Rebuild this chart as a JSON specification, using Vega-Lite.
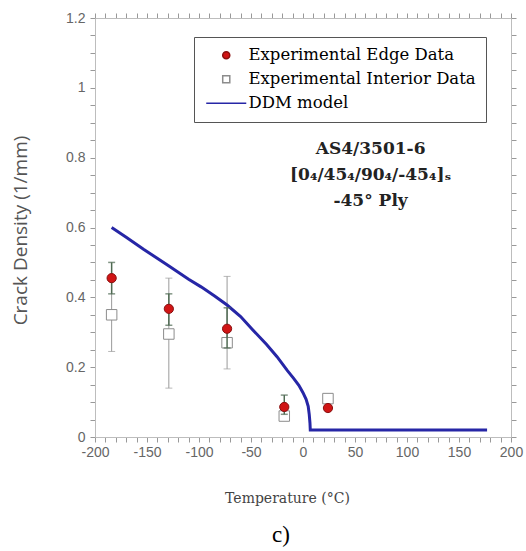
{
  "$schema": "https://vega.github.io/schema/vega-lite/v6.json",
  "width": 416,
  "height": 419,
  "autosize": {"type": "none"},
  "padding": {"left": 95, "top": 18, "right": 15, "bottom": 114},
  "background": "white",
  "config": {
    "view": {"stroke": "#c4c4c4", "strokeWidth": 1},
    "axis": {"domainColor": "#bdbdbd", "tickColor": "#999999", "labelColor": "#666666", "labelFont": "Liberation Sans", "labelFontSize": 14, "grid": false, "labelOverlap": false, "labelFlush": false}
  },
  "title": {"text": "c)", "orient": "bottom", "font": "Liberation Serif", "fontSize": 23, "fontWeight": "normal", "color": "#000000", "offset": 19, "dx": -22},
  "datasets": {
    "edge": [
      {"T": -184, "v": 0.455, "lo": 0.41, "hi": 0.50, "series": "Experimental Edge Data"},
      {"T": -129, "v": 0.367, "lo": 0.32, "hi": 0.41, "series": "Experimental Edge Data"},
      {"T": -73, "v": 0.31, "lo": 0.255, "hi": 0.37, "series": "Experimental Edge Data"},
      {"T": -18, "v": 0.086, "lo": 0.065, "hi": 0.12, "series": "Experimental Edge Data"},
      {"T": 24, "v": 0.083, "lo": 0.076, "hi": 0.09, "series": "Experimental Edge Data"}
    ],
    "interior": [
      {"T": -184, "v": 0.35, "lo": 0.245, "hi": 0.455, "series": "Experimental Interior Data"},
      {"T": -129, "v": 0.295, "lo": 0.14, "hi": 0.455, "series": "Experimental Interior Data"},
      {"T": -73, "v": 0.27, "lo": 0.195, "hi": 0.46, "series": "Experimental Interior Data"},
      {"T": -18, "v": 0.06, "lo": 0.05, "hi": 0.07, "series": "Experimental Interior Data"},
      {"T": 24, "v": 0.11, "lo": 0.10, "hi": 0.12, "series": "Experimental Interior Data"}
    ],
    "model": [
      {"T": -184, "v": 0.600, "series": "DDM model"},
      {"T": -170, "v": 0.572, "series": "DDM model"},
      {"T": -153, "v": 0.537, "series": "DDM model"},
      {"T": -130, "v": 0.492, "series": "DDM model"},
      {"T": -110, "v": 0.452, "series": "DDM model"},
      {"T": -98, "v": 0.430, "series": "DDM model"},
      {"T": -85, "v": 0.404, "series": "DDM model"},
      {"T": -73, "v": 0.378, "series": "DDM model"},
      {"T": -60, "v": 0.345, "series": "DDM model"},
      {"T": -48, "v": 0.306, "series": "DDM model"},
      {"T": -35, "v": 0.265, "series": "DDM model"},
      {"T": -25, "v": 0.230, "series": "DDM model"},
      {"T": -15, "v": 0.190, "series": "DDM model"},
      {"T": -9, "v": 0.168, "series": "DDM model"},
      {"T": -4, "v": 0.148, "series": "DDM model"},
      {"T": 0, "v": 0.127, "series": "DDM model"},
      {"T": 3, "v": 0.108, "series": "DDM model"},
      {"T": 5, "v": 0.088, "series": "DDM model"},
      {"T": 6, "v": 0.065, "series": "DDM model"},
      {"T": 6.7, "v": 0.04, "series": "DDM model"},
      {"T": 7, "v": 0.02, "series": "DDM model"},
      {"T": 177, "v": 0.02, "series": "DDM model"}
    ]
  },
  "resolve": {"axis": {"x": "independent", "y": "independent"}},
  "layer": [
    {
      "data": {"name": "interior"},
      "mark": {"type": "rule", "color": "#9a9a9a", "strokeWidth": 1},
      "encoding": {
        "x": {"field": "T", "type": "quantitative", "scale": {"domain": [-200, 200], "nice": false, "zero": false},
          "axis": {"orient": "bottom", "values": [-200,-190,-180,-170,-160,-150,-140,-130,-120,-110,-100,-90,-80,-70,-60,-50,-40,-30,-20,-10,0,10,20,30,40,50,60,70,80,90,100,110,120,130,140,150,160,170,180,190,200],
            "labelExpr": "datum.value % 50 === 0 ? '' + datum.value : ''", "tickSize": 5, "labelPadding": 3, "labelFlush": false,
            "title": "Temperature (°C)", "titleFont": "DejaVu Serif", "titleFontSize": 14, "titleFontWeight": "normal", "titleColor": "#444444", "titleX": 192, "titleY": 61, "titleBaseline": "middle",
            "encode": {"ticks": {"update": {"y": {"signal": "datum.value % 50 === 0 ? -5 : -3"}, "y2": {"signal": "datum.value % 50 === 0 ? 5 : 3"}}}}}},
        "y": {"field": "lo", "type": "quantitative", "scale": {"domain": [0, 1.2], "nice": false},
          "axis": {"orient": "left", "values": [0,0.05,0.1,0.15,0.2,0.25,0.3,0.35,0.4,0.45,0.5,0.55,0.6,0.65,0.7,0.75,0.8,0.85,0.9,0.95,1,1.05,1.1,1.15,1.2],
            "labelExpr": "abs(round(datum.value*20)) % 4 === 0 ? '' + round(datum.value*10)/10 : ''", "tickSize": 5, "labelPadding": 5, "labelFlush": false,
            "title": "Crack Density (1/mm)", "titleFont": "Open Sans", "titleFontSize": 19, "titleFontWeight": "normal", "titleColor": "#555555", "titleX": -75, "titleY": 212, "titleBaseline": "middle", "titleAngle": -90,
            "encode": {"ticks": {"update": {"x": {"signal": "abs(round(datum.value*20)) % 4 === 0 ? 5 : 3"}, "x2": {"signal": "abs(round(datum.value*20)) % 4 === 0 ? -5 : -3"}}}}}},
        "y2": {"field": "hi"}
      }
    },
    {
      "data": {"name": "interior"},
      "mark": {"type": "tick", "orient": "horizontal", "color": "#9a9a9a", "size": 7, "thickness": 1},
      "encoding": {
        "x": {"field": "T", "type": "quantitative",
          "axis": {"orient": "top", "values": [-200,-190,-180,-170,-160,-150,-140,-130,-120,-110,-100,-90,-80,-70,-60,-50,-40,-30,-20,-10,0,10,20,30,40,50,60,70,80,90,100,110,120,130,140,150,160,170,180,190,200],
            "labels": false, "title": null, "tickSize": 5, "ticks": true, "domain": true,
            "encode": {"ticks": {"update": {"y": {"signal": "datum.value % 50 === 0 ? -5 : -3"}, "y2": {"signal": "datum.value % 50 === 0 ? 5 : 3"}}}}}},
        "y": {"field": "lo", "type": "quantitative",
          "axis": {"orient": "right", "values": [0,0.05,0.1,0.15,0.2,0.25,0.3,0.35,0.4,0.45,0.5,0.55,0.6,0.65,0.7,0.75,0.8,0.85,0.9,0.95,1,1.05,1.1,1.15,1.2],
            "labels": false, "title": null, "tickSize": 5,
            "encode": {"ticks": {"update": {"x": {"signal": "abs(round(datum.value*20)) % 4 === 0 ? 5 : 3"}, "x2": {"signal": "abs(round(datum.value*20)) % 4 === 0 ? -5 : -3"}}}}}}
      }
    },
    {
      "data": {"name": "interior"},
      "mark": {"type": "tick", "orient": "horizontal", "color": "#9a9a9a", "size": 7, "thickness": 1},
      "encoding": {
        "x": {"field": "T", "type": "quantitative", "axis": null},
        "y": {"field": "hi", "type": "quantitative", "axis": null}
      }
    },
    {
      "data": {"name": "interior"},
      "mark": {"type": "point", "filled": true, "size": 110, "strokeWidth": 1, "opacity": 1},
      "encoding": {
        "x": {"field": "T", "type": "quantitative", "axis": null},
        "y": {"field": "v", "type": "quantitative", "axis": null},
        "shape": {"field": "series", "type": "nominal",
          "scale": {"domain": ["Experimental Edge Data", "Experimental Interior Data", "DDM model"], "range": ["circle", "square", "M-5.66,0L5.66,0"]},
          "legend": {"orient": "none", "legendX": 99, "legendY": 19, "title": null, "padding": 10, "rowPadding": 7,
            "strokeColor": "#555555", "fillColor": "#ffffff", "cornerRadius": 0,
            "labelFont": "DejaVu Serif", "labelFontSize": 16.5, "labelLimit": 400, "symbolSize": 50, "symbolOffset": 14, "labelOffset": 14, "symbolOpacity": 1,
            "encode": {
              "symbols": {"update": {"strokeWidth": {"signal": "datum.value === 'DDM model' ? 3 : 1"}, "opacity": {"value": 1}}},
              "labels": {"update": {"fill": {"signal": "datum.value === 'Experimental Edge Data' ? '#d23b3b' : datum.value === 'DDM model' ? '#3b3bd0' : '#222222'"}}}
            }}},
        "fill": {"field": "series", "type": "nominal",
          "scale": {"domain": ["Experimental Edge Data", "Experimental Interior Data", "DDM model"], "range": ["#d01515", "#ffffff", "transparent"]}},
        "stroke": {"field": "series", "type": "nominal",
          "scale": {"domain": ["Experimental Edge Data", "Experimental Interior Data", "DDM model"], "range": ["#8a1010", "#8c8c8c", "#2626a6"]}}
      }
    },
    {
      "data": {"name": "model"},
      "mark": {"type": "line", "strokeWidth": 3},
      "encoding": {
        "x": {"field": "T", "type": "quantitative", "axis": null},
        "y": {"field": "v", "type": "quantitative", "axis": null},
        "stroke": {"field": "series", "type": "nominal"}
      }
    },
    {
      "data": {"name": "edge"},
      "mark": {"type": "rule", "color": "#4f6a52", "strokeWidth": 1.5},
      "encoding": {
        "x": {"field": "T", "type": "quantitative", "axis": null},
        "y": {"field": "lo", "type": "quantitative", "axis": null},
        "y2": {"field": "hi"}
      }
    },
    {
      "data": {"name": "edge"},
      "mark": {"type": "tick", "orient": "horizontal", "color": "#4f6a52", "size": 7, "thickness": 1.5},
      "encoding": {
        "x": {"field": "T", "type": "quantitative", "axis": null},
        "y": {"field": "lo", "type": "quantitative", "axis": null}
      }
    },
    {
      "data": {"name": "edge"},
      "mark": {"type": "tick", "orient": "horizontal", "color": "#4f6a52", "size": 7, "thickness": 1.5},
      "encoding": {
        "x": {"field": "T", "type": "quantitative", "axis": null},
        "y": {"field": "hi", "type": "quantitative", "axis": null}
      }
    },
    {
      "data": {"name": "edge"},
      "mark": {"type": "point", "filled": true, "size": 85, "strokeWidth": 1, "opacity": 1},
      "encoding": {
        "x": {"field": "T", "type": "quantitative", "axis": null},
        "y": {"field": "v", "type": "quantitative", "axis": null},
        "shape": {"field": "series", "type": "nominal"},
        "fill": {"field": "series", "type": "nominal"},
        "stroke": {"field": "series", "type": "nominal"}
      }
    },
    {
      "data": {"values": [{"line": "AS4/3501-6", "T": 65, "v": 0.825}, {"line": "[0₄/45₄/90₄/-45₄]ₛ", "T": 65, "v": 0.751}, {"line": "-45° Ply", "T": 65, "v": 0.676}]},
      "mark": {"type": "text", "font": "DejaVu Serif", "fontSize": 17, "fontWeight": "bold", "color": "#222222", "align": "center", "baseline": "middle"},
      "encoding": {
        "x": {"field": "T", "type": "quantitative", "axis": null},
        "y": {"field": "v", "type": "quantitative", "axis": null},
        "text": {"field": "line"}
      }
    }
  ]
}
